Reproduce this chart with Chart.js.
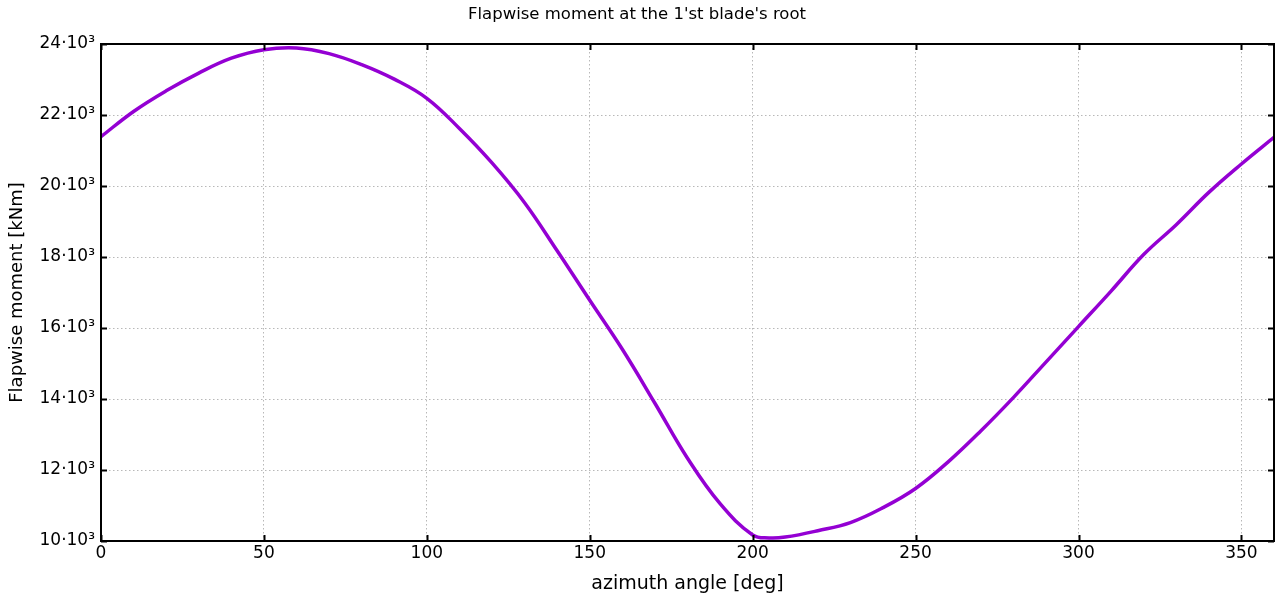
<!DOCTYPE html>
<html>
<head>
<meta charset="utf-8">
<script src="https://cdn.jsdelivr.net/npm/chart.js@4"></script>
<style>
html,body{margin:0;padding:0;background:#fff;}
#wrap{width:1276px;height:601px;position:relative;}
</style>
</head>
<body>
<div id="wrap"><canvas id="c" width="1276" height="601"></canvas></div>
<script>
const azimuth = [0,10,20,30,40,50,60,70,80,90,100,110,120,130,140,150,160,170,180,190,200,205,210,220,230,240,250,260,270,280,290,300,310,320,330,340,350,360];
const moment  = [21390,22100,22680,23180,23600,23840,23890,23730,23420,23010,22470,21620,20650,19530,18175,16780,15400,13880,12330,11050,10170,10085,10110,10290,10520,10940,11480,12230,13100,14040,15040,16040,17040,18070,18910,19820,20620,21370];
const xTickValues = [0,50,100,150,200,250,300,350];
const yTickValues = [10000,12000,14000,16000,18000,20000,22000,24000];
const titleText = "Flapwise moment at the 1'st blade's root";
const xTitle = "azimuth angle [deg]";
const yTitle = "Flapwise moment [kNm]";

const FONT = "'DejaVu Sans', Verdana, sans-serif";

const framePlugin = {
  id: 'frame',
  afterDraw(chart) {
    const {ctx, chartArea: a, scales: {x, y}} = chart;
    ctx.save();
    ctx.strokeStyle = '#000';
    ctx.lineWidth = 2;
    const t = 6;
    ctx.beginPath();
    xTickValues.forEach(v => {
      const px = Math.round(x.getPixelForValue(v)) + 0.5;
      ctx.moveTo(px, a.bottom); ctx.lineTo(px, a.bottom - t);
      ctx.moveTo(px, a.top); ctx.lineTo(px, a.top + t);
    });
    yTickValues.forEach(v => {
      const py = Math.round(y.getPixelForValue(v)) + 0.5;
      ctx.moveTo(a.left, py); ctx.lineTo(a.left + t, py);
      ctx.moveTo(a.right, py); ctx.lineTo(a.right - t, py);
    });
    ctx.stroke();
    ctx.strokeRect(a.left, a.top, a.right - a.left, a.bottom - a.top);
    ctx.restore();
  }
};

new Chart(document.getElementById('c'), {
  type: 'line',
  data: {
    datasets: [{
      data: azimuth.map((a, i) => ({x: a, y: moment[i]})),
      borderColor: '#9400d3',
      borderWidth: 3.5,
      pointRadius: 0,
      tension: 0.4,
      fill: false
    }]
  },
  options: {
    responsive: false,
    animation: false,
    layout: {padding: {top: 0, right: 2, bottom: 0, left: 0}},
    plugins: {
      legend: {display: false},
      tooltip: {enabled: false},
      title: {
        display: true,
        text: titleText,
        color: '#000',
        font: {family: FONT, size: 16.5, weight: 'normal', lineHeight: 1.2},
        padding: {top: 5, bottom: 19.2}
      }
    },
    scales: {
      x: {
        type: 'linear',
        min: 0, max: 360,
        afterBuildTicks: s => { s.ticks = xTickValues.map(v => ({value: v})); },
        afterFit: s => { s.height = 60; },
        ticks: {
          color: '#000',
          font: {family: FONT, size: 17},
          padding: 2,
          maxRotation: 0,
          autoSkip: false
        },
        grid: {color: '#b8b8b8', lineWidth: 1, drawTicks: false},
        border: {display: false, dash: [1.5, 2.5]},
        title: {
          display: true, text: xTitle, color: '#000',
          font: {family: FONT, size: 19, lineHeight: 1.2},
          padding: {top: 0, bottom: 6}
        }
      },
      y: {
        type: 'linear',
        min: 10000, max: 24000,
        afterBuildTicks: s => { s.ticks = yTickValues.map(v => ({value: v})); },
        afterFit: s => { s.width = 101; },
        ticks: {
          color: '#000',
          font: {family: FONT, size: 17},
          padding: 6,
          callback: v => (v / 1000) + '·10³'
        },
        grid: {color: '#b8b8b8', lineWidth: 1, drawTicks: false},
        border: {display: false, dash: [1.5, 2.5]},
        title: {
          display: true, text: yTitle, color: '#000',
          font: {family: FONT, size: 18, lineHeight: 1.2},
          padding: {top: 7, bottom: 0}
        }
      }
    }
  },
  plugins: [framePlugin]
});
</script>
</body>
</html>
